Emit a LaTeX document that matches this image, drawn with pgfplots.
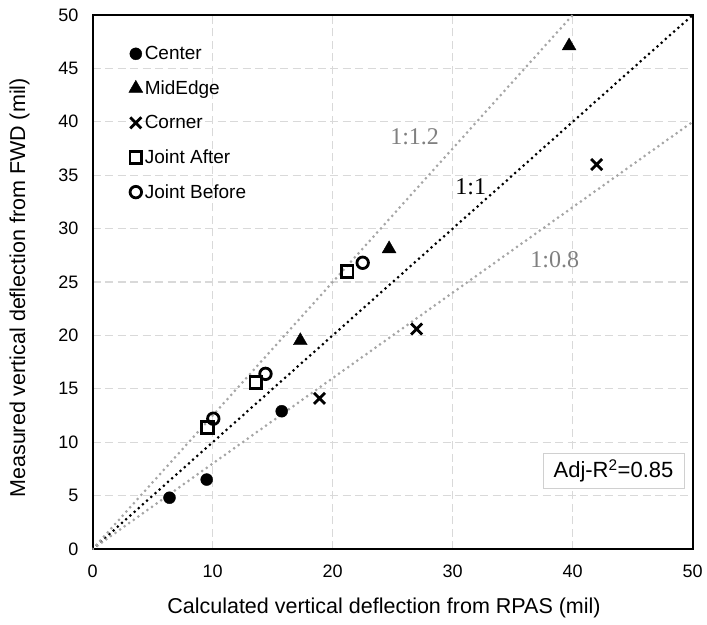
\documentclass[border=0pt]{standalone}
\usepackage{pgfplots}
\pgfplotsset{compat=1.18}
\usepackage{fontspec}
\setmainfont{Liberation Sans}
\newfontfamily\seriffont{Liberation Serif}
\definecolor{gridgray}{HTML}{D9D9D9}
\definecolor{linegray}{HTML}{A6A6A6}
\definecolor{labelgray}{HTML}{808080}
\definecolor{boxgray}{HTML}{D0D0D0}

\begin{document}
\begin{tikzpicture}
\begin{axis}[
  scale only axis, width=600pt, height=534pt,
  xmin=0, xmax=50, ymin=0, ymax=50,
  xtick={0,10,20,30,40,50}, ytick={0,5,...,50},
  grid=major,
  major grid style={gridgray, line width=1.2pt, dash pattern=on 8pt off 4.5pt},
  axis line style={black, line width=1.8pt},
  major tick length=0pt,
  /pgf/number format/assume math mode=true,
  tick label style={font=\fontsize{18}{20}\selectfont},
  xticklabel style={yshift=-12pt},
  yticklabel style={xshift=-10.7pt},
  xlabel={Calculated vertical deflection from RPAS (mil)},
  ylabel={Measured vertical deflection from FWD (mil)},
  label style={font=\fontsize{21.5}{24}\selectfont},
  xlabel style={at={(axis description cs:0.4855,-0.1217)}, anchor=base},
  ylabel style={at={(axis description cs:-0.1128,0.489)}, anchor=base},
  legend style={draw=none, fill=none, at={(axis description cs:0.055,0.949)}, anchor=north west,
    font=\fontsize{19}{21}\selectfont, row sep=15.5pt, nodes={inner xsep=2pt}},
  legend cell align=left,
  legend image code/.code={\draw[mark repeat=2,mark phase=2] plot coordinates {(0cm,0cm) (0.22cm,0cm) (0.44cm,0cm)};},
]
\addplot[only marks, mark=*, mark size=6pt, black] coordinates {(6.4,4.8) (9.5,6.5) (15.75,12.9)};
\addlegendentry{Center}
\addplot[only marks, mark=triangle*, mark size=8pt, black] coordinates {(17.3,19.5) (24.7,28.1) (39.7,47.1)};
\addlegendentry{MidEdge}
\addplot[only marks, mark=x, mark size=7.8pt, black, line width=2.8pt] coordinates {(18.9,14.1) (27.0,20.6) (42.0,36.0)};
\addlegendentry{Corner}
\addplot[only marks, mark=square, mark size=5.9pt, black, line width=2.8pt] coordinates {(9.55,11.4) (13.6,15.6) (21.2,26.0)};
\addlegendentry{Joint After}
\addplot[only marks, mark=o, mark size=5.75pt, black, line width=2.8pt] coordinates {(10.05,12.2) (14.4,16.4) (22.5,26.8)};
\addlegendentry{Joint Before}

\addplot[forget plot, black, line width=3pt, line cap=round, dash pattern=on 0pt off 5.6pt] coordinates {(0,0) (50,50)};
\addplot[forget plot, linegray, line width=3pt, line cap=round, dash pattern=on 0pt off 5.6pt] coordinates {(0,0) (40,50)};
\addplot[forget plot, linegray, line width=3pt, line cap=round, dash pattern=on 0pt off 5.6pt] coordinates {(0,0) (50,40)};

\node[text=labelgray, font=\seriffont\fontsize{24}{28}\selectfont, inner sep=0pt] at (axis cs:26.83,38.57) {1:1.2};
\node[text=black, font=\seriffont\fontsize{24}{28}\selectfont, inner sep=0pt] at (axis cs:31.5,33.9) {1:1};
\node[text=labelgray, font=\seriffont\fontsize{24}{28}\selectfont, inner sep=0pt] at (axis cs:38.5,27.06) {1:0.8};
\node[draw=boxgray, fill=white, line width=1pt, font=\fontsize{22}{26}\selectfont, minimum width=141pt, minimum height=35pt, inner sep=0pt] at (axis cs:43.4,7.33) {Adj-R\textsuperscript{2}=0.85};
\end{axis}
\pgfresetboundingbox
\path ([shift={(-92.7pt,-75pt)}]current axis.south west) rectangle ([shift={(14.3pt,15pt)}]current axis.north east);
\end{tikzpicture}
\end{document}
